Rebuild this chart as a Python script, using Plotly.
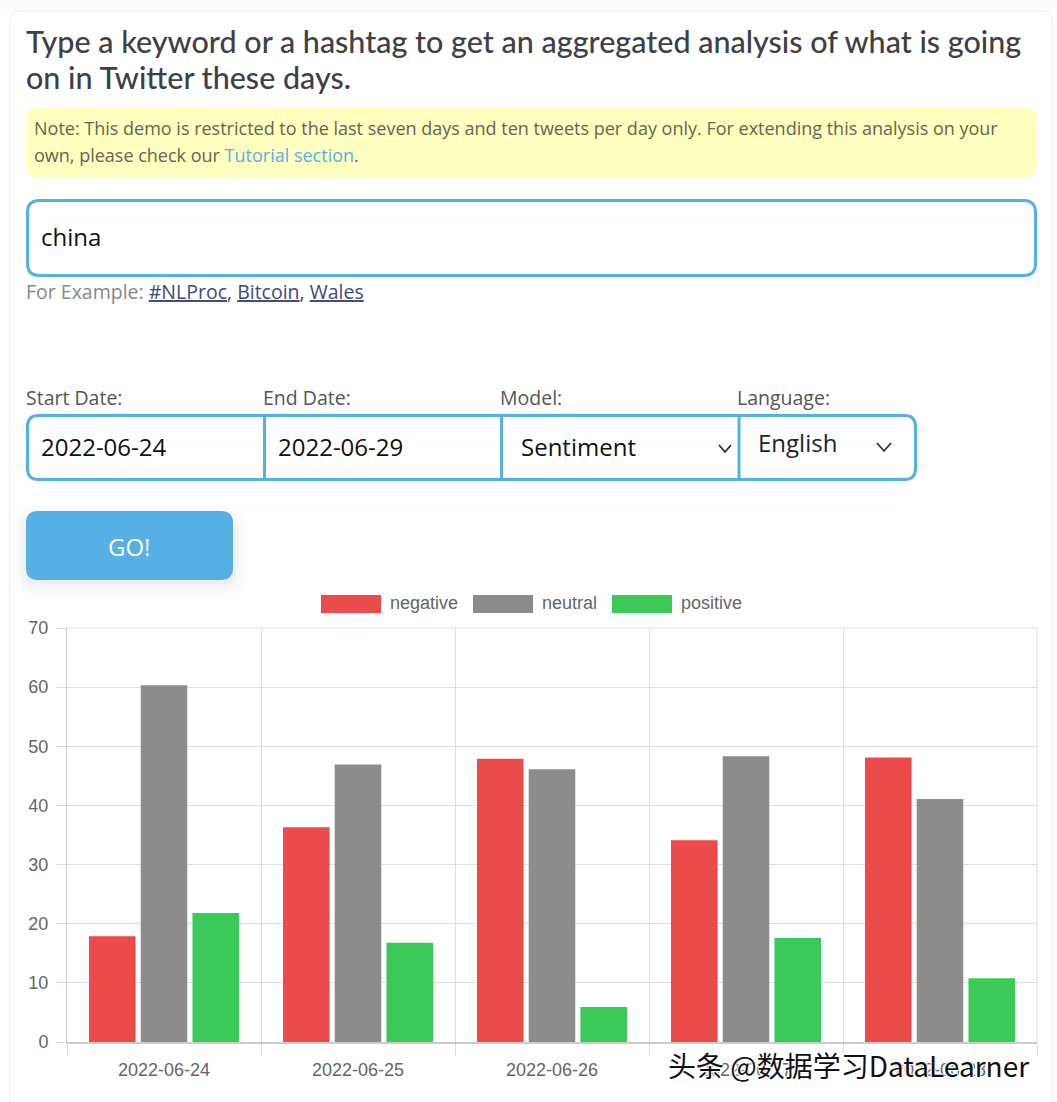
import plotly.graph_objects as go

# chart values
dates = ["2022-06-24", "2022-06-25", "2022-06-26", "2022-06-27", "2022-06-28"]
negative = [17.9, 36.3, 47.9, 34.1, 48.1]
neutral = [60.3, 46.9, 46.1, 48.3, 41.1]
positive = [21.8, 16.8, 5.9, 17.6, 10.8]
y_ticks = [0, 10, 20, 30, 40, 50, 60, 70]
legend_labels = ["negative", "neutral", "positive"]

WIDTH = 1057
HEIGHT = 1102
BLUE = "#56b0e6"
RED = "#ea4b4b"
GREY = "#8c8c8c"
GREEN = "#3bc95a"
BODY_FONT = "Open Sans"
HEAD_FONT = "Lato"
CHART_FONT = "Liberation Sans"


def px(x):
    return x / WIDTH


def py(y):
    return 1 - y / HEIGHT


def rounded_rect(x0, y0, x1, y1, r, fill=None, line=None, width=0):
    """Rounded rectangle given in screen pixels, as a paper-referenced path."""
    pts = [
        f"M{px(x0 + r)},{py(y0)}",
        f"L{px(x1 - r)},{py(y0)}",
        f"Q{px(x1)},{py(y0)} {px(x1)},{py(y0 + r)}",
        f"L{px(x1)},{py(y1 - r)}",
        f"Q{px(x1)},{py(y1)} {px(x1 - r)},{py(y1)}",
        f"L{px(x0 + r)},{py(y1)}",
        f"Q{px(x0)},{py(y1)} {px(x0)},{py(y1 - r)}",
        f"L{px(x0)},{py(y0 + r)}",
        f"Q{px(x0)},{py(y0)} {px(x0 + r)},{py(y0)}Z",
    ]
    return dict(
        type="path",
        xref="paper",
        yref="paper",
        path="".join(pts),
        fillcolor=fill or "rgba(0,0,0,0)",
        line=dict(color=line or "rgba(0,0,0,0)", width=width),
        layer="below",
    )


def polyline(points, color, width):
    path = "M" + "L".join(f"{px(x)},{py(y)}" for x, y in points)
    return dict(
        type="path",
        xref="paper",
        yref="paper",
        path=path,
        line=dict(color=color, width=width),
        layer="below",
    )


def label(x, y, text, size, color, family=BODY_FONT, anchor="left", **font_extra):
    return dict(
        x=px(x),
        y=py(y),
        xref="paper",
        yref="paper",
        text=text,
        showarrow=False,
        xanchor=anchor,
        yanchor="middle",
        align=anchor,
        borderpad=0,
        borderwidth=0,
        font=dict(family=family, size=size, color=color, **font_extra),
    )


shapes = []

# page shadow at the very top and the card
shapes.append(rounded_rect(-5, -5, WIDTH + 5, 10, 0, fill="#fdfdfd"))
for i, shade in enumerate(["#f4f4f4", "#f6f6f6", "#f9f9f9", "#fcfcfc"]):
    shapes.append(rounded_rect(-5, -5, WIDTH + 5, 3 + i * 2.5, 0, fill=shade))
shapes.append(rounded_rect(9.5, 11, 1052.5, 1120, 10, fill="#ffffff", line="#eeeeee", width=1))

# note box
shapes.append(rounded_rect(26, 108, 1037, 177, 10, fill="#ffffc0"))

# keyword input
shapes.append(rounded_rect(27.5, 200.5, 1035.5, 275.5, 12, fill="#ffffff", line=BLUE, width=3))

# date / model / language group
shapes.append(rounded_rect(27.5, 415.5, 915.5, 479.5, 11, fill="#ffffff", line=BLUE, width=3))
for divider in (264.5, 501.5, 739):
    shapes.append(polyline([(divider, 416), (divider, 479)], BLUE, 3))
shapes.append(polyline([(719, 445), (725, 452), (731, 445)], "#222222", 1.6))
shapes.append(polyline([(877, 443), (884, 451), (891, 443)], "#333333", 1.8))

# GO button with its soft shadow
for grow, shade in ((14, "#fcfcfc"), (9, "#f9f9f9"), (5, "#f5f5f5"), (2, "#f0f0f0")):
    shapes.append(rounded_rect(26 - grow, 511 - grow + 8, 233 + grow, 580 + grow + 4, 12 + grow, fill=shade))
shapes.append(rounded_rect(26, 511, 233, 580, 12, fill=BLUE))

# chart legend swatches
for x0, x1, color in ((321, 381, RED), (473, 533, GREY), (612, 672, GREEN)):
    shapes.append(rounded_rect(x0, 595, x1, 613, 0, fill=color))

# chart frame lines plotly leaves out at the axis ends
shapes.append(polyline([(67, 628), (1037, 628)], "#dedede", 1))
shapes.append(polyline([(1037, 628), (1037, 1042)], "#dedede", 1))

annotations = [
    label(25.5, 41, "Type a keyword or a hashtag to get an aggregated analysis of what is going", 30.5, "#3f3f46", HEAD_FONT, weight=500),
    label(25.5, 77, "on in Twitter these days.", 30.5, "#3f3f46", HEAD_FONT, weight=500),
    label(33.5, 128, "Note: This demo is restricted to the last seven days and ten tweets per day only. For extending this analysis on your", 18, "#666650"),
    label(33.5, 155, f'own, please check our <span style="color:{BLUE}">Tutorial section</span>.', 18, "#666650"),
    label(40.5, 237, "china", 24, "#111111"),
    label(25.5, 291, 'For Example: <span style="color:#3f4a78"><u>#NLProc</u>, <u>Bitcoin</u>, <u>Wales</u></span>', 19.5, "#888888"),
    label(25.5, 397, "Start Date:", 19.5, "#555555"),
    label(263, 397, "End Date:", 19.5, "#555555"),
    label(500, 397, "Model:", 19.5, "#555555"),
    label(737, 397, "Language:", 19.5, "#555555"),
    label(40.5, 447, "2022-06-24", 24, "#111111"),
    label(277.5, 447, "2022-06-29", 24, "#111111"),
    label(520.5, 447, "Sentiment", 24, "#111111"),
    label(757.5, 443, "English", 24, "#222222"),
    label(129, 546, "GO!", 24, "#ffffff", anchor="center"),
    label(390, 603, legend_labels[0], 18, "#666666", CHART_FONT),
    label(542, 603, legend_labels[1], 18, "#666666", CHART_FONT),
    label(681, 603, legend_labels[2], 18, "#666666", CHART_FONT),
    label(
        668, 1065, "头条 @数据学习DataLearner", 28, "#111111", "Noto Sans CJK SC",
        shadow="1px 1px 1px #fff, -1px -1px 1px #fff, 1px -1px 1px #fff, -1px 1px 1px #fff",
    ),
]

fig = go.Figure()
for name, values, color in zip(legend_labels, (negative, neutral, positive), (RED, GREY, GREEN)):
    fig.add_trace(
        go.Bar(
            name=name,
            x=dates,
            y=values,
            marker=dict(color=color, line=dict(width=0)),
            showlegend=False,
        )
    )

fig.update_layout(
    width=WIDTH,
    height=HEIGHT,
    margin=dict(l=0, r=0, t=0, b=0, autoexpand=False),
    paper_bgcolor="#ffffff",
    plot_bgcolor="rgba(0,0,0,0)",
    barmode="group",
    bargap=0.2,
    bargroupgap=0.1,
    shapes=shapes,
    annotations=annotations,
    xaxis=dict(
        domain=[px(67), px(1037)],
        type="category",
        tickson="boundaries",
        ticks="outside",
        ticklen=12,
        tickcolor="#dddddd",
        ticklabelstandoff=10,
        tickfont=dict(family=CHART_FONT, size=18, color="#666666"),
        showgrid=True,
        gridcolor="#dedede",
        showline=True,
        linecolor="#cccccc",
        linewidth=2,
        zeroline=False,
    ),
    yaxis=dict(
        domain=[py(1042), py(628)],
        range=[0, 70],
        tickvals=y_ticks,
        ticks="outside",
        ticklen=10,
        tickcolor="#dddddd",
        ticklabelstandoff=4,
        tickfont=dict(family=CHART_FONT, size=18, color="#666666"),
        showgrid=True,
        gridcolor="#dedede",
        showline=True,
        linecolor="#cccccc",
        linewidth=1,
        zeroline=False,
    ),
)

fig.write_html(
    "out.html",
    config={"displayModeBar": False},
    post_script="document.body.style.margin='0';document.body.style.overflow='hidden';",
)
